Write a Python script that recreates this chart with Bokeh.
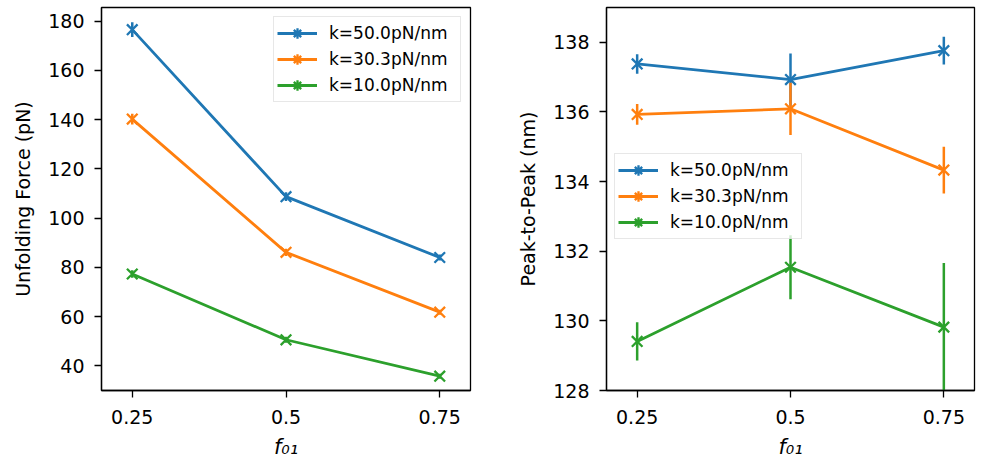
import numpy as np
from bokeh.plotting import figure
from bokeh.layouts import row
from bokeh.models import (Range1d, FixedTicker, NumeralTickFormatter, Legend,
                          LegendItem)
from bokeh.embed import file_html
from bokeh.resources import INLINE

# ---- data -------------------------------------------------------------
f01 = [0.25, 0.5, 0.75]
series_labels = ["k=50.0pN/nm", "k=30.3pN/nm", "k=10.0pN/nm"]
colors = ["#1f77b4", "#ff7f0e", "#2ca02c"]

# unfolding force (pN) and its spread
force_k50 = [176.5, 108.7, 84.0]
force_k30 = [140.2, 86.1, 61.8]
force_k10 = [77.3, 50.6, 35.8]
force_err_k50 = [3.0, 1.8, 1.2]
force_err_k30 = [2.2, 1.5, 1.0]
force_err_k10 = [1.5, 1.2, 1.0]

# peak-to-peak distance (nm) and its spread
p2p_k50 = [137.38, 136.93, 137.76]
p2p_k30 = [135.93, 136.09, 134.33]
p2p_k10 = [129.41, 131.54, 129.82]
p2p_err_k50 = [0.28, 0.75, 0.40]
p2p_err_k30 = [0.30, 0.75, 0.67]
p2p_err_k10 = [0.55, 0.92, 1.84]

force_ticks = [40, 60, 80, 100, 120, 140, 160, 180]
p2p_ticks = [128, 130, 132, 134, 136, 138]

FONT = "DejaVu Sans"


def make_panel(width, border_left, border_right, y_range, y_ticks, y_label,
               values, errors, legend_loc):
    p = figure(width=width, height=461, output_backend="svg",
               toolbar_location=None, tools="",
               x_range=Range1d(0.2, 0.8), y_range=Range1d(*y_range),
               min_border_left=border_left, min_border_right=border_right,
               min_border_top=7, min_border_bottom=69)
    p.grid.visible = False
    p.outline_line_color = "black"
    p.outline_line_width = 1.3
    p.background_fill_color = "white"
    p.border_fill_color = "white"

    p.xaxis.ticker = FixedTicker(ticks=f01)
    p.xaxis.formatter = NumeralTickFormatter(format="0.[00]")
    p.xaxis.axis_label = "f\u2080\u2081"
    p.yaxis.ticker = FixedTicker(ticks=y_ticks)
    p.yaxis.axis_label = y_label
    for ax in p.axis:
        ax.major_tick_out = 7
        ax.major_tick_in = 0
        ax.minor_tick_out = 0
        ax.minor_tick_in = 0
        ax.axis_line_width = 1.3
        ax.major_tick_line_width = 1.3
        ax.major_label_text_font = FONT
        ax.major_label_text_font_size = "19px"
        ax.major_label_text_color = "black"
        ax.axis_label_text_font = FONT
        ax.axis_label_text_font_size = "19px"
        ax.axis_label_text_font_style = "normal"
        ax.axis_label_text_color = "black"
    p.xaxis.major_label_standoff = 12
    p.xaxis.axis_label_standoff = 8
    p.xaxis.axis_label_text_font_style = "italic"
    p.xaxis.axis_label_text_font_size = "21px"
    p.yaxis.major_label_standoff = 10
    p.yaxis.axis_label_standoff = 11

    items = []
    for lab, col, ys, es in zip(series_labels, colors, values, errors):
        line_r = p.line(f01, ys, line_color=col, line_width=2.8)
        lo = [y - e for y, e in zip(ys, es)]
        hi = [y + e for y, e in zip(ys, es)]
        p.segment(x0=f01, y0=lo, x1=f01, y1=hi, line_color=col, line_width=2.5)
        p.scatter(f01, ys, marker="x", size=15, line_color=col, line_width=2.3)
        # legend key only: a marker with an error stroke, never drawn in the frame
        key_r = p.scatter(x=f01, y=np.full(len(f01), np.nan), marker="asterisk",
                          size=15, line_color=col, line_width=2.3)
        items.append(LegendItem(label=lab, renderers=[line_r, key_r]))

    legend = Legend(items=items, location=legend_loc,
                    label_text_font=FONT, label_text_font_size="17px",
                    label_text_color="black",
                    glyph_width=40, glyph_height=26, label_height=20,
                    label_width=128, label_standoff=12, spacing=0,
                    padding=3, margin=9,
                    border_line_color="#d0d0d0", border_line_width=1.2,
                    background_fill_color="white", background_fill_alpha=0.8)
    p.add_layout(legend)
    return p


left = make_panel(490, 101, 20, (30, 185.5), force_ticks,
                  "Unfolding Force (pN)",
                  [force_k50, force_k30, force_k10],
                  [force_err_k50, force_err_k30, force_err_k10],
                  "top_right")
right = make_panel(492, 116, 8, (128, 139), p2p_ticks,
                   "Peak-to-Peak (nm)",
                   [p2p_k50, p2p_k30, p2p_k10],
                   [p2p_err_k50, p2p_err_k30, p2p_err_k10],
                   (8, 151))

layout = row(left, right)
open("out.html", "w").write(file_html(layout, INLINE))
